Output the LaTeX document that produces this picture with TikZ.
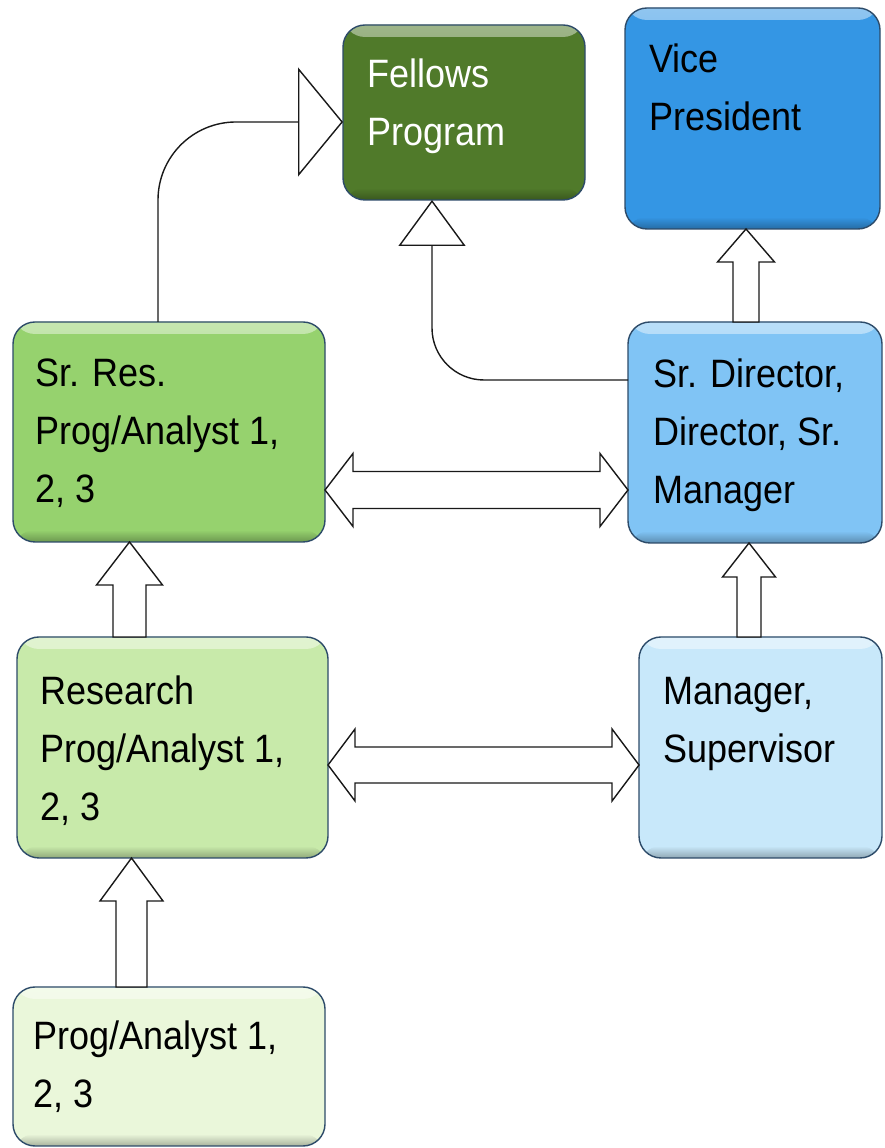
\documentclass[tikz,border=0pt]{standalone}
\usepackage{fontspec}
\setmainfont{Liberation Sans}
\usepackage{graphicx}
\usetikzlibrary{arrows.meta,calc}
\definecolor{felC}{RGB}{80,122,42}
\definecolor{vpC}{RGB}{52,150,228}
\definecolor{srC}{RGB}{150,210,110}
\definecolor{sdC}{RGB}{128,196,245}
\definecolor{reC}{RGB}{200,234,170}
\definecolor{mgC}{RGB}{200,232,250}
\definecolor{pgC}{RGB}{234,247,218}
\definecolor{edgeC}{RGB}{45,75,105}
\newcommand\bt[1]{\scalebox{1}[1.1]{\begin{tabular}[t]{@{}l@{}}#1\end{tabular}}}
\newcommand\upblk[5]{\draw[blk] let \p1=(#1), \p2=(#2) in
  (\x1-#3,\y1) -- (\x1-#3,\y2-#5) -- (\x1-#4,\y2-#5) -- (\x1,\y2) --
  (\x1+#4,\y2-#5) -- (\x1+#3,\y2-#5) -- (\x1+#3,\y1) -- cycle;}
\newcommand\hdbl[5]{\draw[blk] let \p1=(#1), \p2=(#2) in
  (\x1,\y1) -- (\x1+#5,\y1+#4) -- (\x1+#5,\y1+#3) -- (\x2-#5,\y1+#3) --
  (\x2-#5,\y1+#4) -- (\x2,\y1) -- (\x2-#5,\y1-#4) -- (\x2-#5,\y1-#3) --
  (\x1+#5,\y1-#3) -- (\x1+#5,\y1-#4) -- cycle;}
\begin{document}
\begin{tikzpicture}[x=1pt,y=1pt,
  box/.style={draw=edgeC, line width=1.4pt, rounded corners=22pt, inner sep=0pt, outer sep=0pt,
    fill=#1,
    path picture={
      \shade[top color=#1!55!white, bottom color=#1]
        (path picture bounding box.north west) rectangle ([yshift=-12pt]path picture bounding box.north east);
      \shade[top color=#1, bottom color=#1!72!black]
        ([yshift=12pt]path picture bounding box.south west) rectangle (path picture bounding box.south east);
    }},
  txt/.style={anchor=base west, inner sep=0pt, font=\fontsize{36}{52.7}\selectfont},
  blk/.style={draw=black!90, line width=1.4pt, fill=white, line join=miter},
  con/.style={draw=black!90, line width=1.4pt}
]
\fill[white] (0,0) rectangle (884,1148);
\useasboundingbox (0,0) rectangle (884,1148);
% boxes
\node[box=felC, minimum width=242pt, minimum height=175pt] (fel) at (464,1035.5) {};
\node[box=vpC, minimum width=255pt, minimum height=221pt] (vp) at (752.5,1029.5) {};
\node[box=srC, minimum width=312pt, minimum height=220pt] (sr) at (169,716) {};
\node[box=sdC, minimum width=254pt, minimum height=221pt] (sd) at (755,715.5) {};
\node[box=reC, minimum width=311pt, minimum height=221pt] (re) at (172.5,400.5) {};
\node[box=mgC, minimum width=243pt, minimum height=221pt] (mg) at (760.5,400.5) {};
\node[box=pgC, minimum width=312pt, minimum height=159pt] (pg) at (169,81.5) {};
% texts
\node[txt, text=white] (felT) at (367,1060) {\bt{Fellows\\Program}};
\node[txt] (vpT) at (649,1075) {\bt{Vice\\President}};
\node[txt] (srT) at (35,761) {\bt{Sr. Res.\\Prog/Analyst 1,\\2, 3}};
\node[txt] (sdT) at (653,760) {\bt{Sr. Director,\\Director, Sr.\\Manager}};
\node[txt] (reT) at (40,443) {\bt{Research\\Prog/Analyst 1,\\2, 3}};
\node[txt] (mgT) at (663,443) {\bt{Manager,\\Supervisor}};
\node[txt] (pgT) at (33,98) {\bt{Prog/Analyst 1,\\2, 3}};
% block arrows
\upblk{131.5,0 |- pg.north}{131.5,0 |- re.south}{15.5pt}{31.5pt}{43pt}
\upblk{129.5,0 |- re.north}{129.5,0 |- sr.south}{16.5pt}{33pt}{43pt}
\upblk{749,0 |- mg.north}{749,0 |- sd.south}{12pt}{26.5pt}{34pt}
\upblk{746,0 |- sd.north}{746,0 |- vp.south}{13pt}{28.5pt}{33pt}
\hdbl{sr.east |- 0,658}{sd.west |- 0,658}{18.5pt}{36.5pt}{28pt}
\hdbl{re.east |- 0,383}{mg.west |- 0,383}{18pt}{36pt}{27pt}
% curved connectors
\draw[con, rounded corners=78pt, -{Triangle[open, length=45pt, width=109pt]}]
  (158,0 |- sr.north) |- ([yshift=-9.5pt]fel.west);
\draw[con, rounded corners=52pt, -{Triangle[open, length=46pt, width=67pt]}]
  ([yshift=52.5pt]sd.west) -| (432,0 |- fel.south);
\end{tikzpicture}
\end{document}
